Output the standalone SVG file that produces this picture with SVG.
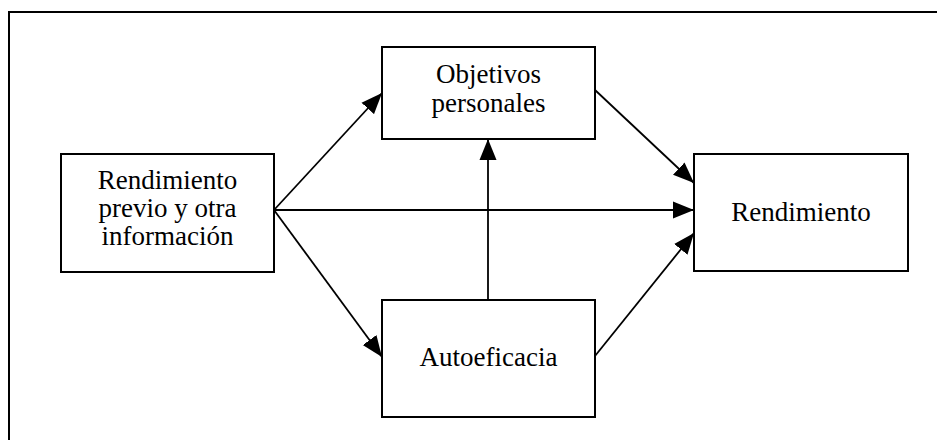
<svg xmlns="http://www.w3.org/2000/svg" width="937" height="440" viewBox="0 0 937 440">
<style>
.box{fill:#fff;stroke:#000;stroke-width:2}
.frame{fill:none;stroke:#000;stroke-width:2}
.t{font-family:"Liberation Serif","Times New Roman",serif;font-size:27px;fill:#000;text-anchor:middle}
.c{stroke:#000;stroke-width:1.8;fill:none;marker-end:url(#ah)}
</style>
<defs>
<marker id="ah" markerUnits="userSpaceOnUse" markerWidth="22" markerHeight="18" refX="21" refY="8.5" orient="auto" viewBox="0 0 22 17">
<path d="M0,0 L21,8.5 L0,17 z" fill="#000"/>
</marker>
</defs>
<rect class="frame" x="9" y="12" width="940" height="440"/>
<g id="connectors">
<line class="c" x1="274" y1="210" x2="382" y2="93"/>
<line class="c" x1="274" y1="210" x2="382" y2="357"/>
<line class="c" x1="274" y1="210" x2="694" y2="210"/>
<line class="c" x1="488" y1="300" x2="488" y2="139"/>
<line class="c" x1="595" y1="90" x2="694" y2="183"/>
<line class="c" x1="595" y1="356" x2="694" y2="233"/>
</g>
<g id="prev">
<rect class="box" x="61" y="154" width="213" height="118"/>
<text class="t" x="167.5" y="189">Rendimiento</text>
<text class="t" x="167.5" y="217">previo y otra</text>
<text class="t" x="167.5" y="245">información</text>
</g>
<g id="objetivos">
<rect class="box" x="382" y="47" width="213" height="92"/>
<text class="t" x="488.5" y="83">Objetivos</text>
<text class="t" x="488.5" y="112">personales</text>
</g>
<g id="autoeficacia">
<rect class="box" x="382" y="300" width="213" height="117"/>
<text class="t" x="488.5" y="366">Autoeficacia</text>
</g>
<g id="rendimiento">
<rect class="box" x="694" y="154" width="214" height="117"/>
<text class="t" x="801" y="221">Rendimiento</text>
</g>
</svg>
